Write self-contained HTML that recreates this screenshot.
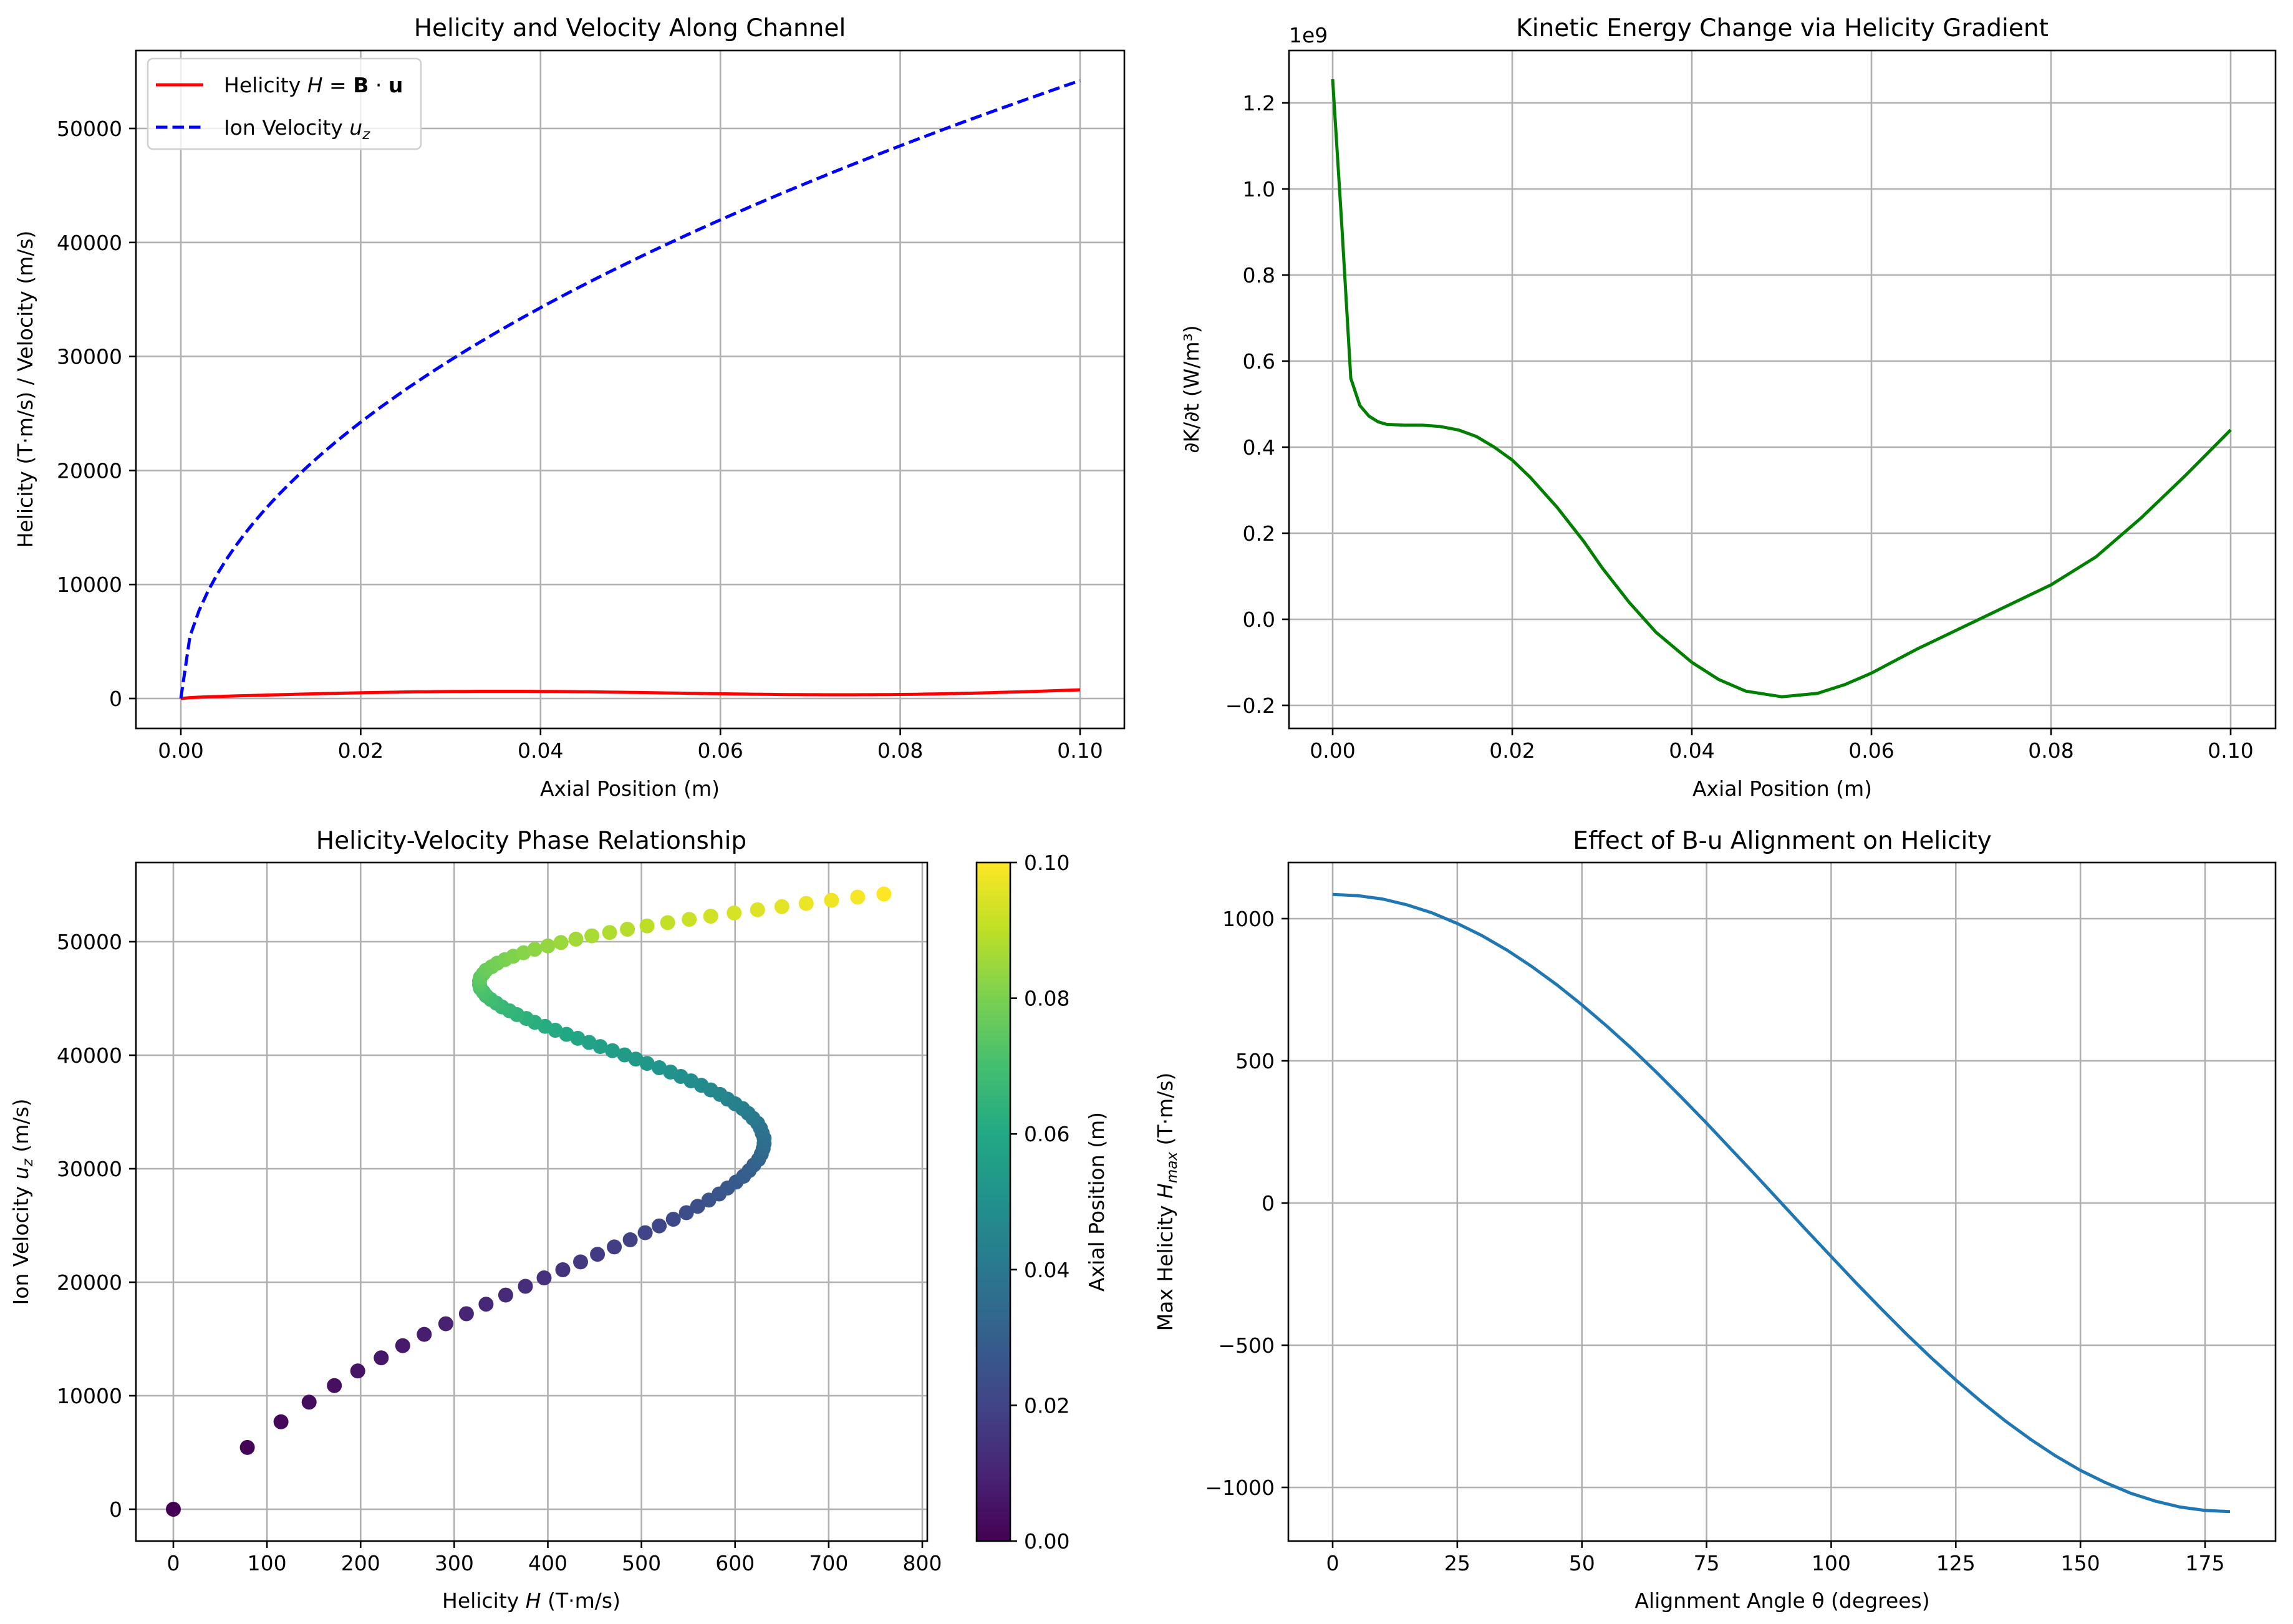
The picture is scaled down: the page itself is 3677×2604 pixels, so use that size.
<!DOCTYPE html>
<html><head><meta charset="utf-8"><style>
html,body{margin:0;padding:0;background:#fff}
svg{display:block;font-family:"DejaVu Sans","Liberation Sans",sans-serif}
</style></head><body>
<svg id="fig" width="3677" height="2604" viewBox="0 0 3677 2604" xmlns="http://www.w3.org/2000/svg">
<defs>
<linearGradient id="viridis" x1="0" y1="1" x2="0" y2="0">
<stop offset="0" stop-color="#440154"/><stop offset="0.1" stop-color="#482475"/><stop offset="0.2" stop-color="#414487"/><stop offset="0.3" stop-color="#355f8d"/><stop offset="0.4" stop-color="#2a788e"/><stop offset="0.5" stop-color="#21918c"/><stop offset="0.6" stop-color="#22a884"/><stop offset="0.7" stop-color="#44bf70"/><stop offset="0.8" stop-color="#7ad151"/><stop offset="0.9" stop-color="#bddf26"/><stop offset="1" stop-color="#fde725"/>
</linearGradient>
</defs>
</svg>
<script>
// ---- data ----
const velocity = [0,5447,7704,9436,10895,12181,13343,14412,15407,16342,17226,18067,18870,19641,20383,21098,21790,22460,23110,23744,24361,24963,25550,26124,26686,27236,27775,28304,28823,29333,29834,30327,30813,31292,31762,32226,32683,33134,33580,34018,34452,34880,35303,35720,36133,36542,36945,37345,37740,38131,38519,38902,39282,39658,40030,40400,40765,41127,41487,41843,42196,42546,42893,43237,43579,43918,44254,44588,44919,45248,45575,45899,46221,46541,46859,47174,47488,47799,48109,48417,48722,49026,49328,49629,49927,50224,50519,50813,51100,51392,51679,51965,52249,52532,52813,53093,53371,53651,53928,54200];
const helicity = [0,79,115,145,172,197,222,245,268,291,313,334,355,376,396,416,435,453,471,488,504,519,534,548,560,572,583,592,601,609,615,620,625,628,630,631,631,629,627,624,619,614,608,600,592,584,574,564,553,542,531,519,506,494,482,469,456,444,432,420,408,397,386,377,367,359,351,345,339,334,331,328,327,327,328,331,334,340,346,354,363,374,386,400,414,430,447,466,485,506,528,551,574,599,624,650,676,703,731,759];
const positionCount = 100; const positionMax = 0.1;
const keX = [0,0.00101,0.00202,0.00303,0.00404,0.00505,0.006,0.008,0.010,0.012,0.014,0.016,0.018,0.020,0.022,0.025,0.028,0.030,0.033,0.036,0.040,0.043,0.046,0.050,0.054,0.057,0.060,0.065,0.070,0.075,0.080,0.085,0.090,0.095,0.100];
const keVal = [1.255,0.92,0.56,0.497,0.472,0.459,0.453,0.451,0.451,0.448,0.44,0.425,0.40,0.37,0.33,0.26,0.18,0.12,0.04,-0.03,-0.10,-0.14,-0.167,-0.18,-0.172,-0.152,-0.125,-0.07,-0.02,0.03,0.08,0.145,0.235,0.335,0.44];
const angles = [0,5,10,15,20,25,30,35,40,45,50,55,60,65,70,75,80,85,90,95,100,105,110,115,120,125,130,135,140,145,150,155,160,165,170,175,180];
const hmax = [1085,1081,1069,1048,1020,983,940,889,831,767,697,622,543,459,371,281,188,95,0,-95,-188,-281,-371,-459,-543,-622,-697,-767,-831,-889,-940,-983,-1020,-1048,-1069,-1081,-1085];
const tlXTicks = [0,0.02,0.04,0.06,0.08,0.10];
const tlYTicks = [0,10000,20000,30000,40000,50000];
const trYTicks = [-0.2,0,0.2,0.4,0.6,0.8,1.0,1.2];
const blXTicks = [0,100,200,300,400,500,600,700,800];
const cbTicks = [0,0.02,0.04,0.06,0.08,0.10];
const brXTicks = [0,25,50,75,100,125,150,175];
const brYTicks = [-1000,-500,0,500,1000];

const NS='http://www.w3.org/2000/svg';
const svg=document.getElementById('fig');
function mk(tag,attrs,parent){const e=document.createElementNS(NS,tag);for(const k in attrs)e.setAttribute(k,attrs[k]);(parent||svg).appendChild(e);return e;}
function txt(s,x,y,attrs,parent){const e=mk('text',Object.assign({x:x,y:y,fill:'#000'},attrs),parent);e.textContent=s;return e;}
function lin(d0,d1,p0,p1){return v=>p0+(v-d0)/(d1-d0)*(p1-p0);}
const viridis=['#440154','#482475','#414487','#355f8d','#2a788e','#21918c','#22a884','#44bf70','#7ad151','#bddf26','#fde725'];
function vcol(t){t=Math.max(0,Math.min(1,t));const f=t*10,i=Math.min(9,Math.floor(f)),r=f-i;const a=viridis[i],b=viridis[i+1];const c=j=>Math.round(parseInt(a.substr(j,2),16)*(1-r)+parseInt(b.substr(j,2),16)*r);return 'rgb('+c(1)+','+c(3)+','+c(5)+')';}
const TICK=33, GRID='#b0b0b0';

function axes(name,L,R,T,B,sx,sy,xt,yt,xfmt,yfmt){
  const g=mk('g',{});
  
  
  xt.forEach(v=>{const x=sx(v);
    const gl=mk('line',{x1:x,x2:x,y1:T,y2:B,stroke:GRID,'stroke-width':2.6},g);
    
    mk('line',{x1:x,x2:x,y1:B,y2:B+11,stroke:'#000','stroke-width':2.6},g);
    const t=txt(xfmt(v),x,B+47,{'font-size':TICK,'text-anchor':'middle'},g);
    });
  yt.forEach(v=>{const y=sy(v);
    const gl=mk('line',{x1:L,x2:R,y1:y,y2:y,stroke:GRID,'stroke-width':2.6},g);
    
    mk('line',{x1:L-11,x2:L,y1:y,y2:y,stroke:'#000','stroke-width':2.6},g);
    const t=txt(yfmt(v),L-22,y+12,{'font-size':TICK,'text-anchor':'end'},g);
    });
  return g;
}
function frame(L,R,T,B){const f=mk('rect',{x:L,y:T,width:R-L,height:B-T,fill:'none',stroke:'#000','stroke-width':2.6});
  }
function title(s,x,y,name){const t=txt(s,x,y,{'font-size':39,'text-anchor':'middle'});return t;}
function ylab(s,x,y,name){const t=txt(s,0,0,{'font-size':33,'text-anchor':'middle',transform:'translate('+x+','+y+') rotate(-90)'});return t;}
const minus=s=>s.replace('-','\u2212');
const xpos=i=>i*positionMax/(positionCount-1);

// ---- Top-left ----
{const L=218,R=1803,T=81,B=1168;
 const sx=lin(0,0.1,290,1732), sy=lin(0,50000,1120,206);
 axes('helicity-velocity-axes',L,R,T,B,sx,sy,tlXTicks,tlYTicks,v=>v.toFixed(2),v=>String(v));
 let d='';helicity.forEach((h,i)=>{d+=(i?'L':'M')+sx(xpos(i)).toFixed(1)+','+sy(h).toFixed(1);});
 const p1=mk('path',{d:d,fill:'none',stroke:'#ff0000','stroke-width':5});
 
 d='';velocity.forEach((u,i)=>{d+=(i?'L':'M')+sx(xpos(i)).toFixed(1)+','+sy(u).toFixed(1);});
 const p2=mk('path',{d:d,fill:'none',stroke:'#0000ff','stroke-width':5,'stroke-dasharray':'18.5,8'});
 
 frame(L,R,T,B);
 title('Helicity and Velocity Along Channel',1010,58,'top-left-title');
 const xl=txt('Axial Position (m)',1010,1276,{'font-size':33,'text-anchor':'middle'});
 
 ylab('Helicity (T\u00b7m/s) / Velocity (m/s)',52,624,'y-axis-title');
 const lg=mk('g',{});
 mk('rect',{x:237,y:94,width:438,height:145,rx:8,fill:'#fff','fill-opacity':0.8,stroke:'#d0d0d0','stroke-width':2.6},lg);
 const e1=mk('g',{},lg);
 mk('line',{x1:250,x2:326,y1:136,y2:136,stroke:'#ff0000','stroke-width':5},e1);
 const t1=txt('',359,148,{'font-size':33},e1);
 t1.innerHTML='Helicity <tspan font-style="italic">H</tspan> = <tspan font-weight="bold">B</tspan> \u00b7 <tspan font-weight="bold">u</tspan>';
 const e2=mk('g',{},lg);
 mk('line',{x1:250,x2:326,y1:204,y2:204,stroke:'#0000ff','stroke-width':5,'stroke-dasharray':'18.5,8'},e2);
 const t2=txt('',359,216,{'font-size':33},e2);
 t2.innerHTML='Ion Velocity <tspan font-style="italic">u</tspan><tspan font-style="italic" font-size="23" dy="7">z</tspan>';
}

// ---- Top-right ----
{const L=2067,R=3649,T=81,B=1168;
 const sx=lin(0,0.1,2137,3577), sy=lin(0,1.2,993,165);
 axes('kinetic-energy-axes',L,R,T,B,sx,sy,tlXTicks,trYTicks,v=>v.toFixed(2),v=>minus(v.toFixed(1)));
 let d='';keX.forEach((x,i)=>{d+=(i?'L':'M')+sx(x).toFixed(1)+','+sy(keVal[i]).toFixed(1);});
 const p=mk('path',{d:d,fill:'none',stroke:'#008000','stroke-width':5,'stroke-linejoin':'round'});
 
 frame(L,R,T,B);
 title('Kinetic Energy Change via Helicity Gradient',2858,58,'top-right-title');
 const off=txt('1e9',2067,68,{'font-size':33});
 const xl=txt('Axial Position (m)',2858,1276,{'font-size':33,'text-anchor':'middle'});
 
 ylab('\u2202K/\u2202t (W/m\u00b3)',1922,624,'y-axis-title');
}

// ---- Bottom-left ----
{const L=218,R=1487,T=1383,B=2471;
 const sx=lin(0,800,278,1479), sy=lin(0,50000,2420,1510);
 axes('phase-axes',L,R,T,B,sx,sy,blXTicks,tlYTicks,v=>String(v),v=>String(v));
 const sg=mk('g',{});
 helicity.forEach((h,i)=>{const c=mk('circle',{cx:sx(h).toFixed(1),cy:sy(velocity[i]).toFixed(1),r:12,fill:vcol(xpos(i)/positionMax)},sg);
   });
 frame(L,R,T,B);
 title('Helicity-Velocity Phase Relationship',852,1361,'bottom-left-title');
 const xl=txt('',852,2578,{'font-size':33,'text-anchor':'middle'});
 xl.innerHTML='Helicity <tspan font-style="italic">H</tspan> (T\u00b7m/s)';
 
 const yl=txt('',0,0,{'font-size':33,'text-anchor':'middle',transform:'translate(45,1927) rotate(-90)'});
 yl.innerHTML='Ion Velocity <tspan font-style="italic">u</tspan><tspan font-style="italic" font-size="23" dy="7">z</tspan><tspan dy="-7"> (m/s)</tspan>';
 
 // colorbar
 const cL=1566,cR=1620;const cy=lin(0,0.1,B,T);
 const cb=mk('g',{});
 mk('rect',{x:cL,y:T,width:cR-cL,height:B-T,fill:'url(#viridis)',stroke:'#000','stroke-width':2.6},cb);
 cbTicks.forEach(v=>{const y=cy(v);mk('line',{x1:cR,x2:cR+11,y1:y,y2:y,stroke:'#000','stroke-width':2.6},cb);
   const t=txt(v.toFixed(2),cR+22,y+12,{'font-size':TICK},cb);});
 ylab('Axial Position (m)',1770,1927,'colorbar-title');
}

// ---- Bottom-right ----
{const L=2066,R=3649,T=1383,B=2471;
 const sx=lin(0,175,2137,3536), sy=lin(0,1000,1929,1473);
 axes('alignment-axes',L,R,T,B,sx,sy,brXTicks,brYTicks,v=>String(v),v=>minus(String(v)));
 let d='';angles.forEach((a,i)=>{d+=(i?'L':'M')+sx(a).toFixed(1)+','+sy(hmax[i]).toFixed(1);});
 const p=mk('path',{d:d,fill:'none',stroke:'#1f77b4','stroke-width':5,'stroke-linejoin':'round'});
 
 frame(L,R,T,B);
 title('Effect of B-u Alignment on Helicity',2858,1361,'bottom-right-title');
 const xl=txt('Alignment Angle \u03b8 (degrees)',2858,2578,{'font-size':33,'text-anchor':'middle'});
 
 const yl=txt('',0,0,{'font-size':33,'text-anchor':'middle',transform:'translate(1880,1927) rotate(-90)'});
 yl.innerHTML='Max Helicity <tspan font-style="italic">H</tspan><tspan font-style="italic" font-size="23" dy="7">max</tspan><tspan dy="-7"> (T\u00b7m/s)</tspan>';
 
}
</script>
</body></html>
